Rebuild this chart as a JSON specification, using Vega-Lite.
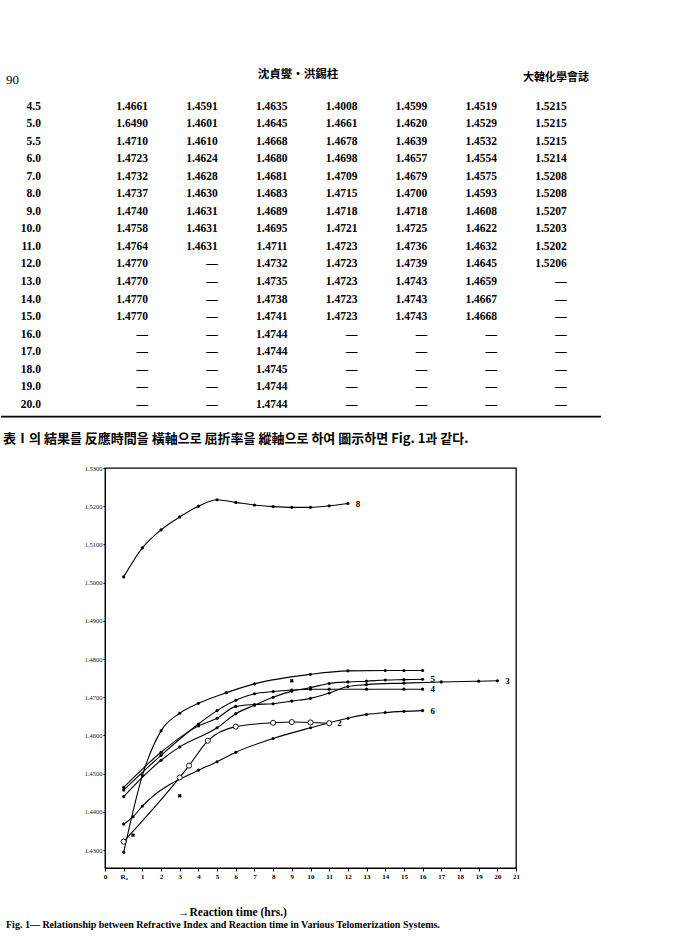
{
  "$schema": "https://vega.github.io/schema/vega-lite/v6.json",
  "background": "white",
  "padding": 0,
  "spacing": 0,
  "config": {"view": {"stroke": null}, "font": "Liberation Serif", "text": {"color": "black"}},
  "datasets": {
    "table": [
      {"r": 0, "time": "4.5", "c1": "1.4661", "c2": "1.4591", "c3": "1.4635", "c4": "1.4008", "c5": "1.4599", "c6": "1.4519", "c7": "1.5215"},
      {"r": 1, "time": "5.0", "c1": "1.6490", "c2": "1.4601", "c3": "1.4645", "c4": "1.4661", "c5": "1.4620", "c6": "1.4529", "c7": "1.5215"},
      {"r": 2, "time": "5.5", "c1": "1.4710", "c2": "1.4610", "c3": "1.4668", "c4": "1.4678", "c5": "1.4639", "c6": "1.4532", "c7": "1.5215"},
      {"r": 3, "time": "6.0", "c1": "1.4723", "c2": "1.4624", "c3": "1.4680", "c4": "1.4698", "c5": "1.4657", "c6": "1.4554", "c7": "1.5214"},
      {"r": 4, "time": "7.0", "c1": "1.4732", "c2": "1.4628", "c3": "1.4681", "c4": "1.4709", "c5": "1.4679", "c6": "1.4575", "c7": "1.5208"},
      {"r": 5, "time": "8.0", "c1": "1.4737", "c2": "1.4630", "c3": "1.4683", "c4": "1.4715", "c5": "1.4700", "c6": "1.4593", "c7": "1.5208"},
      {"r": 6, "time": "9.0", "c1": "1.4740", "c2": "1.4631", "c3": "1.4689", "c4": "1.4718", "c5": "1.4718", "c6": "1.4608", "c7": "1.5207"},
      {"r": 7, "time": "10.0", "c1": "1.4758", "c2": "1.4631", "c3": "1.4695", "c4": "1.4721", "c5": "1.4725", "c6": "1.4622", "c7": "1.5203"},
      {"r": 8, "time": "11.0", "c1": "1.4764", "c2": "1.4631", "c3": "1.4711", "c4": "1.4723", "c5": "1.4736", "c6": "1.4632", "c7": "1.5202"},
      {"r": 9, "time": "12.0", "c1": "1.4770", "c2": "—", "c3": "1.4732", "c4": "1.4723", "c5": "1.4739", "c6": "1.4645", "c7": "1.5206"},
      {"r": 10, "time": "13.0", "c1": "1.4770", "c2": "—", "c3": "1.4735", "c4": "1.4723", "c5": "1.4743", "c6": "1.4659", "c7": "—"},
      {"r": 11, "time": "14.0", "c1": "1.4770", "c2": "—", "c3": "1.4738", "c4": "1.4723", "c5": "1.4743", "c6": "1.4667", "c7": "—"},
      {"r": 12, "time": "15.0", "c1": "1.4770", "c2": "—", "c3": "1.4741", "c4": "1.4723", "c5": "1.4743", "c6": "1.4668", "c7": "—"},
      {"r": 13, "time": "16.0", "c1": "—", "c2": "—", "c3": "1.4744", "c4": "—", "c5": "—", "c6": "—", "c7": "—"},
      {"r": 14, "time": "17.0", "c1": "—", "c2": "—", "c3": "1.4744", "c4": "—", "c5": "—", "c6": "—", "c7": "—"},
      {"r": 15, "time": "18.0", "c1": "—", "c2": "—", "c3": "1.4745", "c4": "—", "c5": "—", "c6": "—", "c7": "—"},
      {"r": 16, "time": "19.0", "c1": "—", "c2": "—", "c3": "1.4744", "c4": "—", "c5": "—", "c6": "—", "c7": "—"},
      {"r": 17, "time": "20.0", "c1": "—", "c2": "—", "c3": "1.4744", "c4": "—", "c5": "—", "c6": "—", "c7": "—"}
    ],
    "columns": [
      {"key": "c1", "col": 1}, {"key": "c2", "col": 2}, {"key": "c3", "col": 3}, {"key": "c4", "col": 4},
      {"key": "c5", "col": 5}, {"key": "c6", "col": 6}, {"key": "c7", "col": 7}
    ],
    "curves": [
      {"curve": "8", "h": 0, "v": 1.5015}, {"curve": "8", "h": 1, "v": 1.5091}, {"curve": "8", "h": 2, "v": 1.5138},
      {"curve": "8", "h": 3, "v": 1.5172}, {"curve": "8", "h": 4, "v": 1.5200}, {"curve": "8", "h": 5, "v": 1.5217},
      {"curve": "8", "h": 6, "v": 1.5210}, {"curve": "8", "h": 7, "v": 1.5203}, {"curve": "8", "h": 8, "v": 1.5199},
      {"curve": "8", "h": 9, "v": 1.5197}, {"curve": "8", "h": 10, "v": 1.5197}, {"curve": "8", "h": 11, "v": 1.5201},
      {"curve": "8", "h": 12, "v": 1.5207},
      {"curve": "1", "h": 0, "v": 1.4294}, {"curve": "1", "h": 1, "v": 1.4495}, {"curve": "1", "h": 2, "v": 1.4612},
      {"curve": "1", "h": 3, "v": 1.4658}, {"curve": "1", "h": 4, "v": 1.4684}, {"curve": "1", "h": 5.5, "v": 1.4712},
      {"curve": "1", "h": 7, "v": 1.4735}, {"curve": "1", "h": 10, "v": 1.4760}, {"curve": "1", "h": 12, "v": 1.4769},
      {"curve": "1", "h": 14, "v": 1.4770}, {"curve": "1", "h": 15, "v": 1.4770}, {"curve": "1", "h": 16, "v": 1.4770},
      {"curve": "2", "h": 0, "v": 1.4322}, {"curve": "2", "h": 3, "v": 1.4490}, {"curve": "2", "h": 3.5, "v": 1.4521},
      {"curve": "2", "h": 4.5, "v": 1.4586}, {"curve": "2", "h": 6, "v": 1.4623}, {"curve": "2", "h": 8, "v": 1.4633},
      {"curve": "2", "h": 9, "v": 1.4635}, {"curve": "2", "h": 10, "v": 1.4634}, {"curve": "2", "h": 11, "v": 1.4632},
      {"curve": "3", "h": 0, "v": 1.4464}, {"curve": "3", "h": 2, "v": 1.4556}, {"curve": "3", "h": 4, "v": 1.4625},
      {"curve": "3", "h": 5, "v": 1.4645}, {"curve": "3", "h": 6, "v": 1.4676}, {"curve": "3", "h": 7, "v": 1.4681},
      {"curve": "3", "h": 8, "v": 1.4683}, {"curve": "3", "h": 9, "v": 1.4690}, {"curve": "3", "h": 10, "v": 1.4697},
      {"curve": "3", "h": 11, "v": 1.4711}, {"curve": "3", "h": 12, "v": 1.4728}, {"curve": "3", "h": 13, "v": 1.4733},
      {"curve": "3", "h": 15, "v": 1.4737}, {"curve": "3", "h": 17, "v": 1.4740}, {"curve": "3", "h": 19, "v": 1.4742},
      {"curve": "3", "h": 20, "v": 1.4743},
      {"curve": "4", "h": 0, "v": 1.4457}, {"curve": "4", "h": 2, "v": 1.4548}, {"curve": "4", "h": 4, "v": 1.4630},
      {"curve": "4", "h": 5, "v": 1.4665}, {"curve": "4", "h": 6, "v": 1.4692}, {"curve": "4", "h": 7, "v": 1.4709},
      {"curve": "4", "h": 8, "v": 1.4715}, {"curve": "4", "h": 9, "v": 1.4719}, {"curve": "4", "h": 10, "v": 1.4721},
      {"curve": "4", "h": 11, "v": 1.4721}, {"curve": "4", "h": 13, "v": 1.4721}, {"curve": "4", "h": 15, "v": 1.4721},
      {"curve": "4", "h": 16, "v": 1.4721},
      {"curve": "5", "h": 0, "v": 1.4440}, {"curve": "5", "h": 2, "v": 1.4535}, {"curve": "5", "h": 3, "v": 1.4570},
      {"curve": "5", "h": 5, "v": 1.4620}, {"curve": "5", "h": 6, "v": 1.4657}, {"curve": "5", "h": 7, "v": 1.4679},
      {"curve": "5", "h": 8, "v": 1.4700}, {"curve": "5", "h": 9, "v": 1.4716}, {"curve": "5", "h": 10, "v": 1.4725},
      {"curve": "5", "h": 11, "v": 1.4736}, {"curve": "5", "h": 12, "v": 1.4740}, {"curve": "5", "h": 13, "v": 1.4742},
      {"curve": "5", "h": 14, "v": 1.4745}, {"curve": "5", "h": 15, "v": 1.4746}, {"curve": "5", "h": 16, "v": 1.4747},
      {"curve": "6", "h": 0, "v": 1.4368}, {"curve": "6", "h": 0.5, "v": 1.4387}, {"curve": "6", "h": 1, "v": 1.4415},
      {"curve": "6", "h": 4, "v": 1.4509}, {"curve": "6", "h": 5, "v": 1.4531}, {"curve": "6", "h": 6, "v": 1.4556},
      {"curve": "6", "h": 8, "v": 1.4592}, {"curve": "6", "h": 10, "v": 1.4620}, {"curve": "6", "h": 12, "v": 1.4645},
      {"curve": "6", "h": 13, "v": 1.4655}, {"curve": "6", "h": 14, "v": 1.4660}, {"curve": "6", "h": 15, "v": 1.4663},
      {"curve": "6", "h": 16, "v": 1.4665}
    ],
    "stray": [
      {"h": 0.5, "v": 1.4339}, {"h": 3, "v": 1.4442}, {"h": 9, "v": 1.4743}
    ]
  },
  "vconcat": [
    {
      "width": 571,
      "height": 464,
      "view": {"stroke": null, "fill": "white"},
      "layer": [
        {
          "data": {"values": [{"label": "90"}]},
          "mark": {"type": "text", "align": "left", "baseline": "middle", "fontSize": 13, "font": "Liberation Serif"},
          "encoding": {
            "x": {"datum": -1.034, "type": "quantitative", "scale": {"domain": [0.384, 8.564], "nice": false, "zero": false}, "axis": null},
            "y": {"datum": -1.55, "type": "quantitative", "scale": {"domain": [-6.087, 20.382], "reverse": true, "nice": false, "zero": false}, "axis": null},
            "text": {"field": "label"}
          }
        },
        {
          "data": {"values": [{"label": "沈貞燮・洪錫柱"}]},
          "mark": {"type": "text", "align": "center", "baseline": "middle", "fontSize": 11.5, "fontWeight": "bold", "font": "Noto Sans CJK KR"},
          "encoding": {
            "x": {"datum": 3.149, "type": "quantitative", "scale": {"domain": [0.384, 8.564], "nice": false, "zero": false}, "axis": null},
            "y": {"datum": -1.8, "type": "quantitative", "scale": {"domain": [-6.087, 20.382], "reverse": true, "nice": false, "zero": false}, "axis": null},
            "text": {"field": "label"}
          }
        },
        {
          "data": {"values": [{"label": "大韓化學會誌"}]},
          "mark": {"type": "text", "align": "center", "baseline": "middle", "fontSize": 11, "fontWeight": "bold", "font": "Noto Sans CJK KR"},
          "encoding": {
            "x": {"datum": 6.845, "type": "quantitative", "scale": {"domain": [0.384, 8.564], "nice": false, "zero": false}, "axis": null},
            "y": {"datum": -1.65, "type": "quantitative", "scale": {"domain": [-6.087, 20.382], "reverse": true, "nice": false, "zero": false}, "axis": null},
            "text": {"field": "label"}
          }
        },
        {
          "data": {"name": "table"},
          "transform": [
            {"fold": ["c1", "c2", "c3", "c4", "c5", "c6", "c7"], "as": ["key", "value"]},
            {"lookup": "key", "from": {"data": {"name": "columns"}, "key": "key", "fields": ["col"]}}
          ],
          "mark": {"type": "text", "align": "right", "baseline": "middle", "fontSize": 11.5, "fontWeight": "bold", "font": "Liberation Serif"},
          "encoding": {
            "x": {"field": "col", "type": "quantitative", "scale": {"domain": [0.384, 8.564], "nice": false, "zero": false}, "axis": null},
            "y": {"field": "r", "type": "quantitative", "scale": {"domain": [-6.087, 20.382], "reverse": true, "nice": false, "zero": false}, "axis": null},
            "text": {"field": "value"}
          }
        },
        {
          "data": {"name": "table"},
          "mark": {"type": "text", "align": "right", "baseline": "middle", "fontSize": 11.5, "fontWeight": "bold", "font": "Liberation Serif"},
          "encoding": {
            "x": {"datum": -0.533, "type": "quantitative", "scale": {"domain": [0.384, 8.564], "nice": false, "zero": false}, "axis": null},
            "y": {"field": "r", "type": "quantitative", "scale": {"domain": [-6.087, 20.382], "reverse": true, "nice": false, "zero": false}, "axis": null},
            "text": {"field": "time"}
          }
        },
        {
          "data": {"values": [{}]},
          "mark": {"type": "rule", "strokeWidth": 1.6, "color": "black"},
          "encoding": {
            "x": {"datum": -1.106, "type": "quantitative", "scale": {"domain": [0.384, 8.564], "nice": false, "zero": false}, "axis": null},
            "x2": {"datum": 7.49},
            "y": {"datum": 17.68, "type": "quantitative", "scale": {"domain": [-6.087, 20.382], "reverse": true, "nice": false, "zero": false}, "axis": null}
          }
        },
        {
          "data": {"values": [{"label": "表Ⅰ의 結果를 反應時間을 橫軸으로 屈折率을 縱軸으로 하여 圖示하면 Fig. 1과 같다."}]},
          "mark": {"type": "text", "align": "left", "baseline": "middle", "fontSize": 13, "fontWeight": "bold", "font": "Noto Sans CJK KR"},
          "encoding": {
            "x": {"datum": -1.077, "type": "quantitative", "scale": {"domain": [0.384, 8.564], "nice": false, "zero": false}, "axis": null},
            "y": {"datum": 18.96, "type": "quantitative", "scale": {"domain": [-6.087, 20.382], "reverse": true, "nice": false, "zero": false}, "axis": null},
            "text": {"field": "label"}
          }
        }
      ]
    },
    {
      "width": 411,
      "height": 400,
      "view": {"stroke": "black", "strokeWidth": 1.3},
      "title": {
        "text": "Fig. 1— Relationship  between Refractive Index and Reaction time in Various Telomerization Systems.",
        "orient": "bottom", "anchor": "start", "frame": "bounds", "offset": 2, "dx": 5,
        "fontSize": 10, "fontWeight": "bold", "font": "Liberation Serif", "color": "black"
      },
      "data": {"name": "curves"},
      "encoding": {
        "x": {
          "field": "h", "type": "quantitative",
          "scale": {"domain": [-1, 21], "nice": false, "zero": false},
          "axis": {
            "values": [-1, 0, 1, 2, 3, 4, 5, 6, 7, 8, 9, 10, 11, 12, 13, 14, 15, 16, 17, 18, 19, 20, 21],
            "labelExpr": "datum.value == -1 ? '0' : (datum.value == 0 ? 'R₀' : datum.label)",
            "title": "→Reaction time (hrs.)",
            "titleX": 127, "titleY": 44, "titleAlign": "center", "titleBaseline": "middle",
            "titleFontSize": 11.5, "titleFontWeight": "bold", "titleFont": "Liberation Serif", "titleColor": "black",
            "labelFontSize": 7, "labelFontWeight": "bold", "labelColor": "black", "labelPadding": 1,
            "labelFlush": false, "labelOverlap": false,
            "tickSize": 3, "tickColor": "black", "domainColor": "black", "grid": false
          }
        },
        "y": {
          "field": "v", "type": "quantitative",
          "scale": {"domain": [1.4253, 1.53], "nice": false, "zero": false},
          "axis": {
            "values": [1.43, 1.44, 1.45, 1.46, 1.47, 1.48, 1.49, 1.5, 1.51, 1.52, 1.53],
            "format": ".4f", "title": null,
            "labelFontSize": 6.5, "labelColor": "#222", "labelPadding": 1, "labelFlush": false, "labelOverlap": false,
            "tickSize": 2, "tickColor": "black", "domainColor": "black", "grid": false,
            "minExtent": 104, "maxExtent": 104
          }
        }
      },
      "layer": [
        {
          "mark": {"type": "line", "interpolate": "monotone", "color": "black", "strokeWidth": 1.1},
          "encoding": {"detail": {"field": "curve"}}
        },
        {
          "transform": [{"filter": "datum.curve != '2'"}],
          "mark": {"type": "point", "filled": true, "color": "black", "size": 10, "opacity": 1}
        },
        {
          "transform": [{"filter": "datum.curve == '2'"}],
          "mark": {"type": "point", "filled": false, "fill": "white", "stroke": "black", "strokeWidth": 0.9, "size": 26, "opacity": 1}
        },
        {
          "data": {"name": "stray"},
          "mark": {"type": "point", "shape": "cross", "angle": 45, "filled": true, "color": "black", "size": 16, "opacity": 1}
        },
        {
          "transform": [
            {"filter": "datum.curve != '1'"},
            {"joinaggregate": [{"op": "max", "field": "h", "as": "hmax"}], "groupby": ["curve"]},
            {"filter": "datum.h == datum.hmax"}
          ],
          "mark": {"type": "text", "align": "left", "baseline": "middle", "dx": 8, "fontSize": 9, "fontWeight": "bold", "font": "Liberation Serif", "color": "black", "fill": "black"},
          "encoding": {"text": {"field": "curve"}}
        }
      ]
    }
  ]
}
